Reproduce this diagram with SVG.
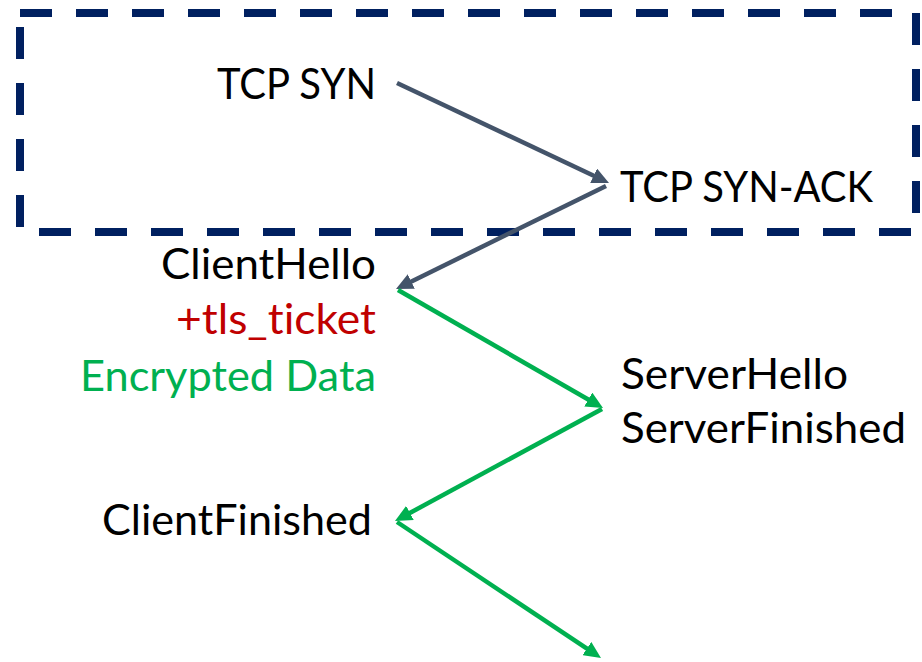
<svg xmlns="http://www.w3.org/2000/svg" width="922" height="662" viewBox="0 0 922 662">
  <style>
    .lbl { font-family: Lato, "Open Sans", "Liberation Sans", sans-serif; font-size: 43px; fill: #000000; font-variant-ligatures: none; }
    .left { text-anchor: end; }
    .right { text-anchor: start; }
    .red { fill: #C00000; }
    .green { fill: #00B050; }
    .frame { fill: none; stroke: #002060; stroke-width: 8; stroke-dasharray: 32 24; }
    .gray { stroke: #44546A; stroke-width: 4.5; fill: none; }
    .grn { stroke: #00B050; stroke-width: 4.5; fill: none; }
  </style>
  <defs>
    <marker id="headGray" markerUnits="userSpaceOnUse" markerWidth="17" markerHeight="16" refX="6" refY="8" orient="auto">
      <path d="M0,0 L17,8 L0,16 Z" fill="#44546A"/>
    </marker>
    <marker id="headGreen" markerUnits="userSpaceOnUse" markerWidth="17" markerHeight="16" refX="6" refY="8" orient="auto">
      <path d="M0,0 L17,8 L0,16 Z" fill="#00B050"/>
    </marker>
  </defs>

  <rect fill="#FFFFFF" x="0" y="0" width="922" height="662"/>

  <!-- TCP handshake region -->
  <g id="tcp-frame">
    <rect class="frame" x="20" y="13" width="896" height="219"/>
  </g>

  <g id="tcp-syn">
    <text class="lbl left" x="376" y="99" textLength="159" lengthAdjust="spacingAndGlyphs">TCP SYN</text>
  </g>
  <g id="tcp-syn-ack">
    <text class="lbl right" x="620" y="202" textLength="253" lengthAdjust="spacingAndGlyphs">TCP SYN-ACK</text>
  </g>
  <g id="client-hello">
    <text class="lbl left" x="376" y="279" textLength="215" lengthAdjust="spacingAndGlyphs">ClientHello</text>
    <text class="lbl left red" x="376" y="334" textLength="200" lengthAdjust="spacingAndGlyphs">+tls_ticket</text>
    <text class="lbl left green" x="376" y="391" textLength="296" lengthAdjust="spacingAndGlyphs">Encrypted Data</text>
  </g>
  <g id="server-hello">
    <text class="lbl right" x="621" y="389" textLength="227" lengthAdjust="spacingAndGlyphs">ServerHello</text>
    <text class="lbl right" x="621" y="443" textLength="285" lengthAdjust="spacingAndGlyphs">ServerFinished</text>
  </g>
  <g id="client-finished">
    <text class="lbl left" x="372" y="535" textLength="270" lengthAdjust="spacingAndGlyphs">ClientFinished</text>
  </g>

  <!-- message flow; each path stops 11px short of the arrow tip -->
  <g id="connectors">
    <path class="gray" d="M397,83 L599.05,178.31" marker-end="url(#headGray)"/>
    <path class="gray" d="M606,186 L405.88,284.16" marker-end="url(#headGray)"/>
    <path class="grn" d="M398,290 L593.46,402.51" marker-end="url(#headGreen)"/>
    <path class="grn" d="M602,409 L404.67,515.77" marker-end="url(#headGreen)"/>
    <path class="grn" d="M397,522 L591.85,651.90" marker-end="url(#headGreen)"/>
  </g>
</svg>
